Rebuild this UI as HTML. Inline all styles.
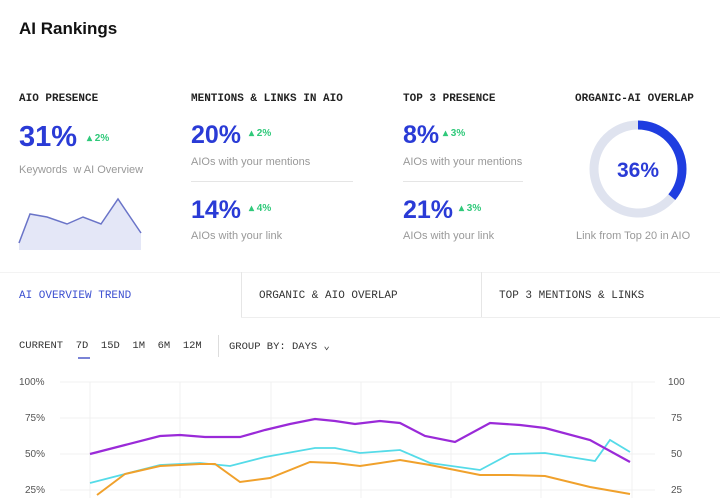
<!DOCTYPE html>
<html><head><meta charset="utf-8"><style>
*{margin:0;padding:0;box-sizing:border-box}
body{width:720px;height:498px;overflow:hidden;background:#fff;font-family:"Liberation Sans",sans-serif;position:relative;color:#111}
.a{position:absolute;white-space:nowrap}
.m{font-family:"Liberation Mono",monospace;font-weight:bold;font-size:11px;color:#222}
.big{font-size:25px;font-weight:bold;color:#2a3bd6}
.g{font-size:10px;color:#2fc97a;font-weight:bold}
.s{font-size:11px;color:#999}
.tab{font-family:"Liberation Mono",monospace;font-size:11px;color:#333}
.ax{font-size:10px;color:#555}
</style></head><body>
<div class="a" style="left:19px;top:19px;font-size:17px;font-weight:bold">AI Rankings</div>

<div class="a m" style="left:19px;top:93px">AIO PRESENCE</div>
<div class="a big" style="left:19px;top:121px;font-size:29px">31%</div><div class="a g" style="left:87px;top:133px">▴ 2%</div>
<div class="a s" style="left:19px;top:164px">Keywords &nbsp;w AI Overview</div>
<svg class="a" style="left:0;top:180px" width="160" height="70"><path d="M19,63 L30,34 L47,37 L67,44 L83,37 L101,44 L118,19 L141,53 L141,70 L19,70Z" fill="#e4e7f7"/><polyline points="19,63 30,34 47,37 67,44 83,37 101,44 118,19 141,53" fill="none" stroke="#6a74c8" stroke-width="1.5"/></svg>

<div class="a m" style="left:191px;top:93px">MENTIONS &amp; LINKS IN AIO</div>
<div class="a big" style="left:191px;top:121px">20%</div><div class="a g" style="left:249px;top:128px">▴ 2%</div>
<div class="a s" style="left:191px;top:156px">AIOs with your mentions</div>
<div class="a" style="left:191px;top:181px;width:162px;border-top:1px solid #e5e5e5"></div>
<div class="a big" style="left:191px;top:196px">14%</div><div class="a g" style="left:249px;top:203px">▴ 4%</div>
<div class="a s" style="left:191px;top:230px">AIOs with your link</div>

<div class="a m" style="left:403px;top:93px">TOP 3 PRESENCE</div>
<div class="a big" style="left:403px;top:121px">8%</div><div class="a g" style="left:443px;top:128px">▴ 3%</div>
<div class="a s" style="left:403px;top:156px">AIOs with your mentions</div>
<div class="a" style="left:403px;top:181px;width:120px;border-top:1px solid #e5e5e5"></div>
<div class="a big" style="left:403px;top:196px">21%</div><div class="a g" style="left:459px;top:203px">▴ 3%</div>
<div class="a s" style="left:403px;top:230px">AIOs with your link</div>

<div class="a m" style="left:575px;top:93px">ORGANIC-AI OVERLAP</div>
<svg class="a" style="left:587px;top:118px" width="102" height="102"><circle cx="51" cy="51" r="44" fill="none" stroke="#dfe3ef" stroke-width="9"/><circle cx="51" cy="51" r="44" fill="none" stroke="#1f3de0" stroke-width="9" stroke-dasharray="99.5 400" transform="rotate(-90 51 51)"/><text x="51" y="59" text-anchor="middle" font-family="Liberation Sans" font-size="21" font-weight="bold" fill="#2a3bd6">36%</text></svg>
<div class="a s" style="left:576px;top:230px">Link from Top 20 in AIO</div>

<div class="a" style="left:0;top:272px;width:720px;height:46px;border-top:1px solid #f3f3f3"></div>
<div class="a" style="left:241px;top:272px;height:46px;border-left:1px solid #e6e6e6"></div>
<div class="a" style="left:481px;top:272px;height:46px;border-left:1px solid #e6e6e6"></div>
<div class="a" style="left:241px;top:317px;width:479px;border-top:1px solid #eee"></div>
<div class="a tab" style="left:19px;top:290px;color:#3b4fd0">AI OVERVIEW TREND</div>
<div class="a tab" style="left:259px;top:290px">ORGANIC &amp; AIO OVERLAP</div>
<div class="a tab" style="left:499px;top:290px">TOP 3 MENTIONS &amp; LINKS</div>

<div class="a tab" style="left:19px;top:340px;font-size:10.5px">CURRENT&nbsp; 7D&nbsp; 15D&nbsp; 1M&nbsp; 6M&nbsp; 12M</div>
<div class="a" style="left:78px;top:357px;width:12px;border-top:2px solid #7a83d6"></div>
<div class="a" style="left:218px;top:335px;height:22px;border-left:1px solid #ddd"></div>
<div class="a tab" style="left:229px;top:340px;font-size:10.5px">GROUP BY: DAYS ⌄</div>

<div class="a ax" style="left:19px;top:377px">100%</div>
<div class="a ax" style="left:25px;top:413px">75%</div>
<div class="a ax" style="left:25px;top:449px">50%</div>
<div class="a ax" style="left:25px;top:485px">25%</div>
<div class="a ax" style="left:668px;top:377px">100</div>
<div class="a ax" style="left:671px;top:413px">75</div>
<div class="a ax" style="left:671px;top:449px">50</div>
<div class="a ax" style="left:671px;top:485px">25</div>
<svg class="a" style="left:0;top:0" width="720" height="498">
<g stroke="#f0f0f0" stroke-width="1">
<line x1="60" y1="382" x2="655" y2="382"/><line x1="60" y1="418" x2="655" y2="418"/><line x1="60" y1="454" x2="655" y2="454"/><line x1="60" y1="490" x2="655" y2="490"/>
<line x1="90" y1="382" x2="90" y2="498"/><line x1="180" y1="382" x2="180" y2="498"/><line x1="271" y1="382" x2="271" y2="498"/><line x1="361" y1="382" x2="361" y2="498"/><line x1="451" y1="382" x2="451" y2="498"/><line x1="541" y1="382" x2="541" y2="498"/><line x1="632" y1="382" x2="632" y2="498"/>
</g>
<polyline fill="none" stroke="#55dbe8" stroke-width="1.8" points="90,483 125,474 160,465 200,463 230,466 265,457 315,448 335,448 360,453 400,450 430,463 480,470 510,454 545,453 595,461 610,440 630,452"/>
<polyline fill="none" stroke="#f0a12c" stroke-width="2" points="97,495 125,474 160,466 200,464 215,464 240,482 270,478 310,462 335,463 360,466 400,460 430,465 480,475 510,475 545,476 590,487 630,494"/>
<polyline fill="none" stroke="#9a2ad8" stroke-width="2.2" points="90,454 125,445 160,436 180,435 205,437 240,437 265,430 290,424 315,419 335,421 355,424 380,421 400,423 425,436 455,442 490,423 520,425 545,428 590,440 630,462"/>
</svg>
</body></html>
